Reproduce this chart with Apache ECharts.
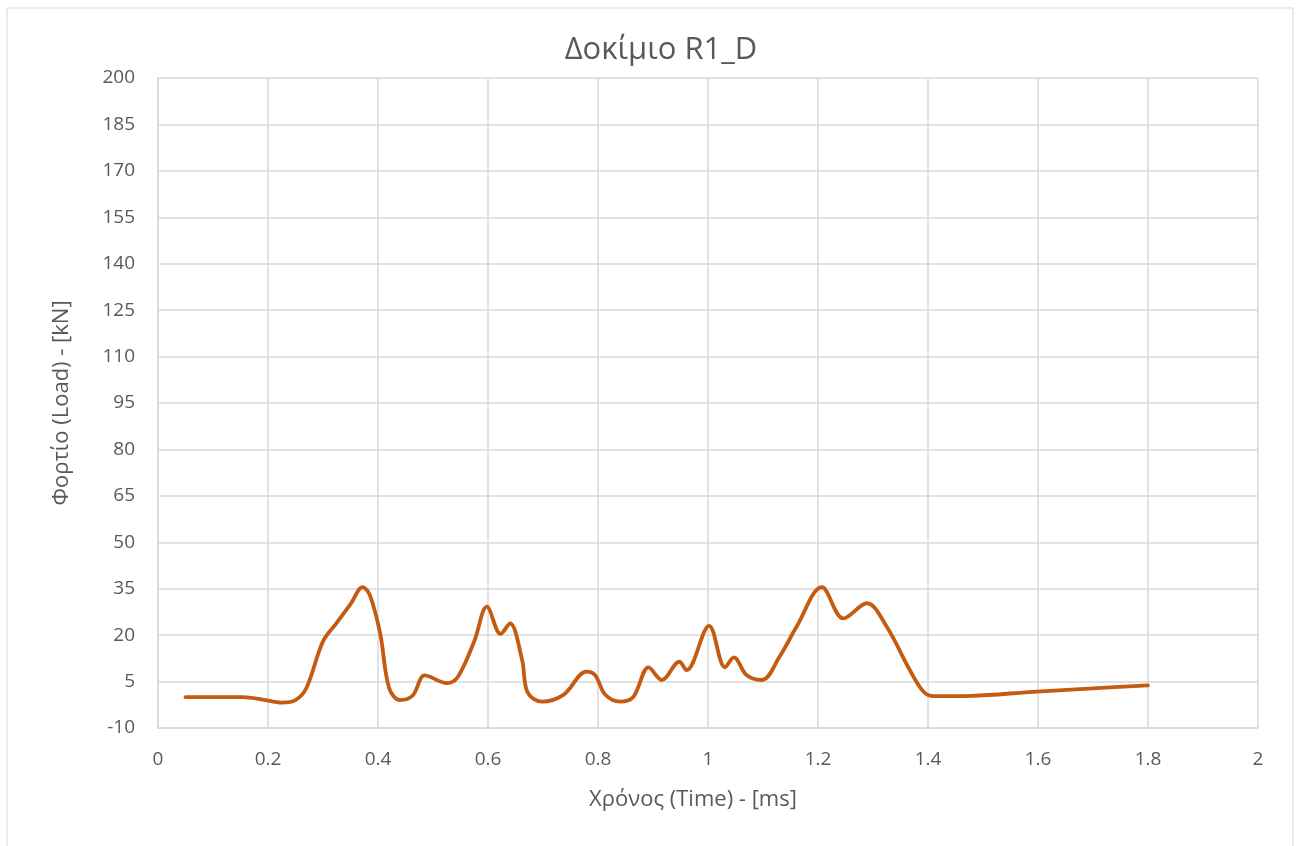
<!DOCTYPE html>
<html>
<head>
<meta charset="utf-8">
<script src="https://cdn.jsdelivr.net/npm/echarts@6/dist/echarts.min.js"></script>
<style>
  html, body { margin: 0; padding: 0; background: #fff; }
  #chart { width: 1301px; height: 846px; }
</style>
</head>
<body>
<div id="chart"></div>
<script>
// Load curve of specimen R1_D: time in ms, load in kN
const timeMs = [0.05, 0.1, 0.155, 0.19, 0.225, 0.25, 0.27, 0.3, 0.325, 0.35, 0.372, 0.385, 0.404, 0.42, 0.44, 0.463, 0.485, 0.525, 0.545, 0.575, 0.598, 0.623, 0.64, 0.662, 0.672, 0.698, 0.737, 0.779, 0.795, 0.813, 0.84, 0.864, 0.892, 0.916, 0.948, 0.961, 1.002, 1.031, 1.047, 1.07, 1.098, 1.13, 1.161, 1.207, 1.246, 1.289, 1.325, 1.367, 1.392, 1.41, 1.48, 1.59, 1.7, 1.8];
const loadKN = [0, 0, 0, -0.8, -1.8, -1, 3, 18, 24, 30, 35.5, 33, 20.5, 3, -1, 0.5, 7, 4.5, 6.5, 18, 29.2, 20.4, 23.8, 12, 1.5, -1.5, 0.7, 8.2, 7, 0.8, -1.5, 0, 9.6, 5.5, 11.4, 8.7, 23, 9.6, 12.8, 7.1, 5.5, 13, 22.7, 35.5, 25.4, 30.3, 22.7, 8.7, 1.7, 0.3, 0.4, 1.7, 2.8, 3.8];

const titleText = 'Δοκίμιο R1_D';
const xName = 'Χρόνος (Time) - [ms]';
const yName = 'Φορτίο (Load) - [kN]';

const points = timeMs.map((t, i) => [t, loadKN[i]]);

const font = '"Open Sans", "Liberation Sans", sans-serif';
const textColor = '#595959';
const gridColor = '#d9d9d9';

const chart = echarts.init(document.getElementById('chart'), null, { renderer: 'canvas' });
chart.setOption({
  backgroundColor: '#ffffff',
  animation: false,
  graphic: [{
    type: 'rect',
    shape: { x: 7, y: 8, width: 1286, height: 860 },
    style: { fill: 'none', stroke: gridColor, lineWidth: 1 },
    silent: true
  }],
  title: {
    text: titleText,
    left: 656,
    textAlign: 'center',
    top: 30,
    textStyle: { fontFamily: font, fontSize: 31, fontWeight: 'normal', color: textColor }
  },
  grid: { left: 158, right: 43, top: 78, bottom: 118, containLabel: false },
  xAxis: {
    type: 'value',
    min: 0,
    max: 2,
    interval: 0.2,
    name: xName,
    nameLocation: 'middle',
    nameGap: 61,
    nameTextStyle: { fontFamily: font, fontSize: 22, color: textColor, padding: [0, 30, 0, 0] },
    axisLine: { show: true, onZero: false, lineStyle: { color: gridColor, width: 1.5 } },
    axisTick: { show: false },
    axisLabel: { fontFamily: font, fontSize: 19, color: textColor, margin: 22 },
    splitLine: { show: true, lineStyle: { color: gridColor, width: 1.5 } }
  },
  yAxis: {
    type: 'value',
    min: -10,
    max: 200,
    interval: 15,
    name: yName,
    nameLocation: 'middle',
    nameGap: 85,
    nameRotate: 90,
    nameTextStyle: { fontFamily: font, fontSize: 22, color: textColor },
    axisLine: { show: true, onZero: false, lineStyle: { color: gridColor, width: 1.5 } },
    axisTick: { show: false },
    axisLabel: { fontFamily: font, fontSize: 19, color: textColor, margin: 23 },
    splitLine: { show: true, lineStyle: { color: gridColor, width: 1.5 } }
  },
  series: [{
    type: 'line',
    data: points,
    smooth: 0.35,
    showSymbol: false,
    lineStyle: { color: '#C55A11', width: 3.8, cap: 'round', join: 'round' },
    itemStyle: { color: '#C55A11' }
  }]
});
</script>
</body>
</html>
